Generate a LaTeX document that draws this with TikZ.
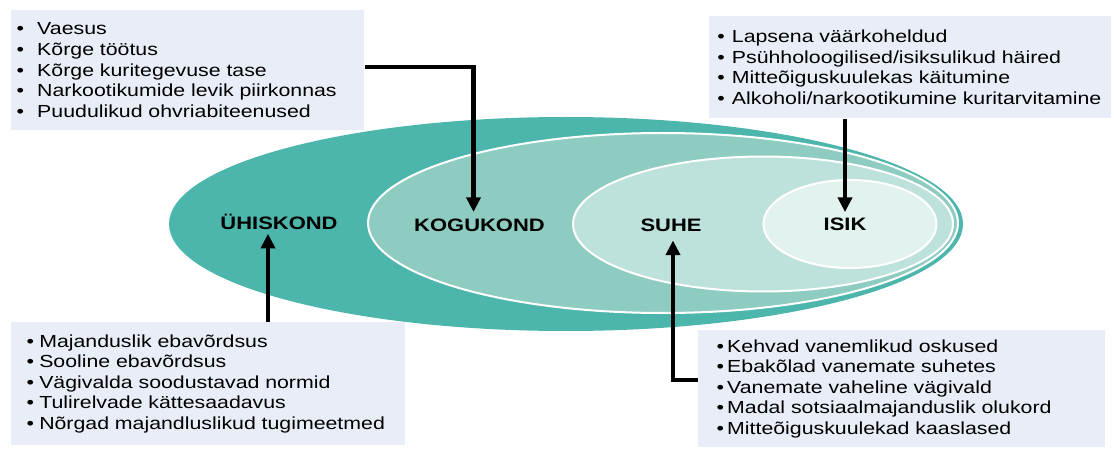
\documentclass[tikz,border=0pt]{standalone}
\usepackage{fontspec}
\setmainfont{Liberation Sans}
\newfontfamily\listfont[FakeStretch=1.22]{Liberation Sans}
\usetikzlibrary{shapes.geometric,arrows.meta}
\definecolor{c1}{HTML}{4DB6AC}
\definecolor{c2}{HTML}{8ECCC2}
\definecolor{c3}{HTML}{BDE1DB}
\definecolor{c4}{HTML}{E2F2EF}
\definecolor{boxfill}{HTML}{E9EDF7}
\newcommand{\itm}[2]{\mbox{\makebox[#1][l]{•}#2}}
\begin{document}
\begin{tikzpicture}[x=0.75pt,y=-0.75pt,
  ring/.style={ellipse, inner sep=0pt, outer sep=0pt},
  inring/.style={ring, draw=white, line width=1.5pt},
  infobox/.style={rectangle, fill=boxfill, draw=none, anchor=north west, align=left, inner ysep=0pt,
    font=\listfont\fontsize{13.1pt}{15.45pt}\selectfont},
  lbl/.style={font=\listfont\bfseries\fontsize{13.5pt}{16pt}\selectfont, inner sep=0pt, anchor=base},
  arr/.style={line width=3.1pt, -{Triangle[width=10.5pt,length=11pt]}}]
\useasboundingbox (0,0) rectangle (1114,449);

% nested ellipses
\node[ring, fill=c1, minimum width=595.5pt, minimum height=160.5pt] (e1) at (566,224) {};
\node[inring, fill=c2, minimum width=442.5pt, minimum height=135pt] (e2) at (663,223) {};
\node[inring, fill=c3, minimum width=285pt, minimum height=101.25pt] (e3) at (763,224) {};
\node[inring, fill=c4, minimum width=129.75pt, minimum height=66pt] (e4) at (850,224) {};

% labels
\node[lbl] (uh) at (279,229.3) {ÜHISKOND};
\node[lbl] (kog) at (479.5,231.5) {KOGUKOND};
\node[lbl] (suhe) at (671,231.5) {SUHE};
\node[lbl] (isik) at (845,230) {ISIK};

% boxes
\node[infobox, minimum width=264.75pt, minimum height=90pt, inner xsep=4pt, text width=256.75pt] (tl) at (11,10) {%
\itm{15.5pt}{Vaesus}\\
\itm{15.5pt}{Kõrge töötus}\\
\itm{15.5pt}{Kõrge kuritegevuse tase}\\
\itm{15.5pt}{Narkootikumide levik piirkonnas}\\
\itm{15.5pt}{Puudulikud ohvriabiteenused}};

\node[infobox, minimum width=301.5pt, minimum height=76.5pt, inner xsep=6pt, text width=289.5pt] (tr) at (709,16) {%
\itm{11pt}{Lapsena väärkoheldud}\\
\itm{11pt}{Psühholoogilised/isiksulikud häired}\\
\itm{11pt}{Mitteõiguskuulekas käitumine}\\
\itm{11pt}{Alkoholi/narkootikumine kuritarvitamine}};

\node[infobox, minimum width=295.5pt, minimum height=92.25pt, inner xsep=11.5pt, text width=272.5pt] (bl) at (11,322) {%
\itm{9.5pt}{Majanduslik ebavõrdsus}\\
\itm{9.5pt}{Sooline ebavõrdsus}\\
\itm{9.5pt}{Vägivalda soodustavad normid}\\
\itm{9.5pt}{Tulirelvade kättesaadavus}\\
\itm{9.5pt}{Nõrgad majandluslikud tugimeetmed}};

\node[infobox, minimum width=305.25pt, minimum height=87.75pt, inner xsep=13.7pt, text width=277.85pt] (br) at (698,330) {%
\itm{8pt}{Kehvad vanemlikud oskused}\\
\itm{8pt}{Ebakõlad vanemate suhetes}\\
\itm{8pt}{Vanemate vaheline vägivald}\\
\itm{8pt}{Madal sotsiaalmajanduslik olukord}\\
\itm{8pt}{Mitteõiguskuulekad kaaslased}};

% arrow end points
\coordinate (kt) at ([xshift=-4.5pt,yshift=5pt]kog.north);
\coordinate (it) at ([yshift=3.8pt]isik.north);
\coordinate (ut) at ([xshift=-8.25pt,yshift=-3pt]uh.south);
\coordinate (st) at ([xshift=1.5pt,yshift=-6.4pt]suhe.south);

\draw[arr] (tl.east |- 0,67) -| (kt);
\draw[arr] (it |- tr.south) -- (it);
\draw[arr] (ut |- bl.north) -- (ut);
\draw[arr] (br.west |- 0,380) -| (st);
\end{tikzpicture}
\end{document}
